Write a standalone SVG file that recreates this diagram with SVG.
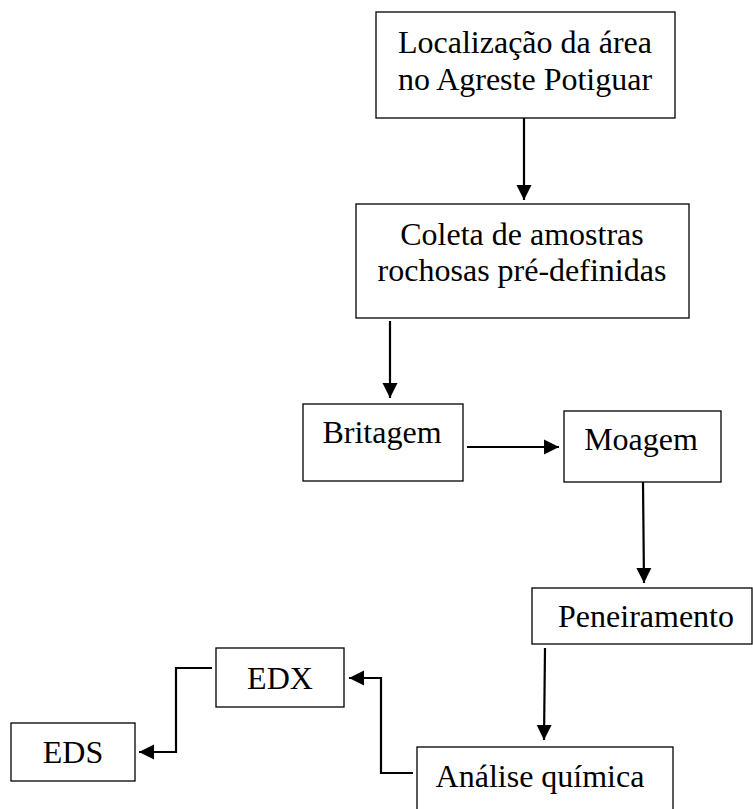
<svg xmlns="http://www.w3.org/2000/svg" width="753" height="809" viewBox="0 0 753 809">
<style>
.box{fill:#fff;stroke:#000;stroke-width:1.3}
.lbl{font-family:"Liberation Serif","Times New Roman",serif;font-size:32px;fill:#000;text-anchor:middle}
.con{fill:none;stroke:#000;stroke-width:2.2;marker-end:url(#ah)}
</style>
<defs>
<marker id="ah" markerUnits="userSpaceOnUse" markerWidth="16" markerHeight="16" viewBox="0 0 16 16" refX="15" refY="8" orient="auto">
<path d="M0,0.5 L15,8 L0,15.5 Z" fill="#000"/>
</marker>
</defs>
<rect width="753" height="809" fill="#fff"/>
<g id="connectors">
<path class="con" d="M524,118 V200"/>
<path class="con" d="M390,321 V398"/>
<path class="con" d="M467,447 H559"/>
<path class="con" d="M643,482 L644,583"/>
<path class="con" d="M545,648 L544,740"/>
<path class="con" d="M413,773 H381 V678 H349"/>
<path class="con" d="M212,668 H176 V752 H139"/>
</g>
<g id="n1"><rect class="box" x="376" y="12" width="299" height="106"/><text class="lbl" x="525" y="53">Localização da área</text><text class="lbl" x="525" y="90">no Agreste Potiguar</text></g>
<g id="n2"><rect class="box" x="356" y="204" width="333" height="114"/><text class="lbl" x="522" y="245">Coleta de amostras</text><text class="lbl" x="522" y="281">rochosas pré-definidas</text></g>
<g id="n3"><rect class="box" x="303" y="404" width="160" height="77"/><text class="lbl" x="382" y="443">Britagem</text></g>
<g id="n4"><rect class="box" x="564" y="411" width="157" height="71"/><text class="lbl" x="641" y="450">Moagem</text></g>
<g id="n5"><rect class="box" x="532" y="588" width="220" height="56"/><text class="lbl" x="646" y="627">Peneiramento</text></g>
<g id="n6"><rect class="box" x="417" y="747" width="256" height="70"/><text class="lbl" x="540" y="787">Análise química</text></g>
<g id="n7"><rect class="box" x="216" y="648" width="128" height="59"/><text class="lbl" x="280" y="689">EDX</text></g>
<g id="n8"><rect class="box" x="11" y="723" width="124" height="58"/><text class="lbl" x="73" y="763">EDS</text></g>
</svg>
